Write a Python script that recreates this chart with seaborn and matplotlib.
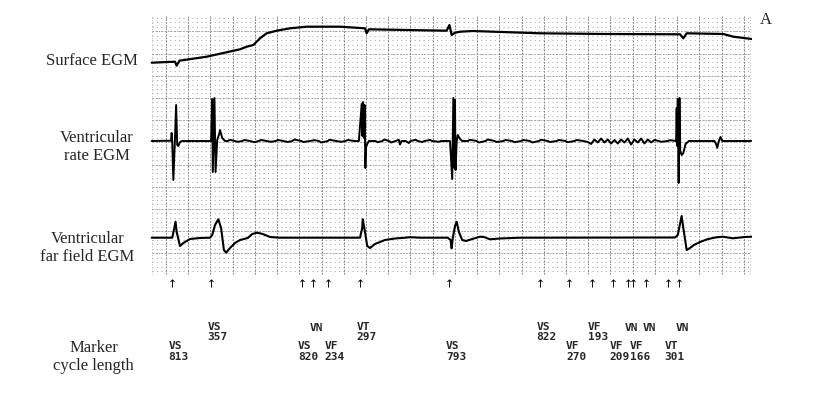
import matplotlib
matplotlib.use("Agg")
import numpy as np
import pandas as pd
import seaborn as sns
from matplotlib import pyplot as plt

# --- traces: time in ms, amplitude in display units (baseline 0, up positive)
surface_t = [15, 225, 240, 265, 510, 810, 870, 930, 990, 1050, 1140, 1260,
             1410, 1710, 1935, 1950, 1970, 2310, 2670, 2695, 2715, 2745,
             2790, 2905, 3510, 4110, 4770, 4800, 4830, 5160, 5250, 5415]
surface_amp = [0.3, 1.3, -2.7, 2.3, 6.3, 13.7, 16.3, 18, 24.7, 29.7, 32.3,
               34.7, 36.3, 36.3, 34.7, 29.7, 33.7, 33, 32.3, 38, 28, 30.3,
               31.3, 32, 29.7, 29, 28.7, 24.7, 29.7, 29, 26.3, 24]

rate_t = [15, 190, 195, 200, 210, 225, 235, 245, 255, 270, 290,
          550, 560, 565, 580, 590, 605, 625, 630, 650, 675,
          700, 720, 760, 790, 830, 850, 900, 940, 980, 1000, 1050, 1090,
          1130, 1150, 1200, 1240, 1280, 1300, 1360, 1380, 1440, 1480, 1520,
          1540, 1600, 1615, 1680, 1720, 1760, 1780, 1840, 1880,
          1905, 1912, 1918, 1925, 1932, 1938, 1945, 1955, 1970, 2000,
          2030, 2050, 2090, 2110, 2150, 2170, 2210, 2240, 2250, 2265, 2300,
          2330, 2345, 2390, 2410, 2450, 2470, 2520, 2540, 2600, 2620, 2700,
          2720, 2730, 2740, 2745, 2750, 2760, 2770, 2790, 2810, 2825,
          2860, 2880, 2940, 2960, 3020, 3040, 3100, 3120, 3180, 3200, 3260,
          3280, 3340, 3360, 3420, 3440, 3500, 3520, 3580, 3600, 3660, 3680,
          3740, 3760, 3820, 3840, 3900, 3940, 3970, 4000, 4030, 4060, 4090,
          4120, 4150, 4180, 4210, 4240, 4270, 4300, 4330, 4360, 4390, 4420,
          4450, 4480, 4510, 4540, 4580, 4600, 4660, 4680, 4730,
          4735, 4740, 4745, 4750, 4758, 4765, 4772, 4785, 4800, 4820, 4850,
          5080, 5095, 5105, 5120, 5135, 5150, 5410]
rate_amp = [0, 0.3, 8, 0, -39, 3, 36, -4, -5, -1, 0,
            0, 42, -31, 43, -31, 1, 8, 11, 3, 0,
            0, 1.2, 0, -0.8, 0, 1, 0, -1.2, 0, 1, 0, -0.8,
            0, 1, 0, -1, 0, 1.5, 0, -1, 0, 0.8, 0,
            -1.5, 0, 1.2, 0, -0.8, 0, 1, 0, 0,
            37, 5, 39, 3, 36, -27, -6, -3, 0, 0,
            0, -1.2, 0, 1.5, 0, -1.5, 0, 1.2, -3.5, 0, 0,
            -2, 0, 1.2, 0, -1, 0, 1, 0, -0.8, 0, 0,
            -38, 43, -27, 41, -29, -1, 6, 2, 0, 0,
            0, 1.2, 0, -1.5, 0, 1.5, 0, -1, 0, 1, 0,
            -1.2, 0, 1, 0, -1.5, 0, 1.2, 0, -1, 0, 1,
            0, -1.2, 0, 1, 0, -1, -3, 1.5, -1.5, 2.5, -1.5,
            1.5, -2.5, 1, -2.5, 1.5, -1.5, 2.5, -3.5, 1.5, -1.5, 2.5,
            -2.5, 1.5, -1.5, 1, 0, -0.8, 0, 0.8, 0,
            0, 33, -5, 42, -42, 43, -10, -14, -12, -3, 0,
            0, -3, -7, 0, 4, 0, 0]

far_t = [15, 200, 215, 230, 240, 270, 300, 360, 450, 540,
         560, 585, 615, 640, 665, 685, 720, 765, 810, 880, 920, 965, 1015,
         1080, 1170,
         1890, 1910, 1915, 1935, 1955, 1980, 2025, 2115, 2205, 2295, 2340,
         2430,
         2680, 2705, 2715, 2725, 2745, 2760, 2780, 2810, 2845, 2900, 2970,
         3005, 3060, 3150, 3330,
         4725, 4750, 4770, 4785, 4800, 4830, 4860, 4895, 4950, 5015, 5085,
         5155, 5245, 5355, 5415]
far_amp = [0, 0, 7.7, 16, 5.7, -8.3, -5.3, -1.3, -0.3, 0,
           2.7, 12.7, 18.4, 9.7, -12.3, -15, -10.3, -5.3, -2.3, -0.3, 3.7, 5,
           3.7, 0.7, 0,
           0, 9.7, 18.4, 5.7, -8.3, -10.3, -6.3, -2.3, -0.8, 0, 0.5,
           0,
           0, -2.3, -10.6, -0.3, 11.7, 16, 5.7, -2.3, -3.3, -1.3, 1,
           0.7, -1.6, -0.8, 0,
           0.2, 2.7, 13.7, 21.7, 9.7, -12.3, -10.3, -7.3, -4.3, -1.6, 0.2,
           1, -0.6, 0.7, 1]

# --- device markers
marker_t = [200, 550, 1365, 1470, 1605, 1890, 2695, 3510, 3775, 3975, 4170,
            4305, 4350, 4465, 4660, 4765]
marker_lbl = ["VS", "VS", "VS", "VN", "VF", "VT", "VS", "VS", "VF", "VF",
              "VF", "VN", "VF", "VN", "VT", "VN"]
marker_cl = [813, 357, 820, None, 234, 297, 793, 822, 270, 193, 209, None,
             166, None, 301, None]

channel_names = ["Surface EGM", "Ventricular\nrate EGM",
                 "Ventricular\nfar field EGM", "Marker\ncycle length"]

# layout (display units: 1 unit = 1 px vertically, 9 ms = 1 px horizontally)
baselines = [337, 259, 162.3]
arrow_y = 117
row_base = [50, 69.3]   # baseline of the label line, low / high row
line_pitch = 9.8

sns.set_style("white")
plt.rcParams["lines.scale_dashes"] = False

fig = plt.figure(figsize=(8.2, 4.0), dpi=100)
ax = fig.add_axes([150 / 820, 0, 602 / 820, 1])

# paper grid
t0, t1 = 14, 5400
y_bot, y_top = 126, 384
rows = np.arange(235.5 - 22.2 * 5, y_top, 4.44)
rows = rows[rows >= y_bot]
ax.hlines(rows, t0, t1, colors="#a0a0a0", lw=0.7,
          linestyles=[(0, (0.7, 2.5))])
major_rows = np.arange(235.5 - 22.2 * 4, y_top, 22.2)
ax.hlines(major_rows, t0, t1, colors="#9a9a9a", lw=0.6,
          linestyles=[(0, (1.2, 1.0))])
cols = np.arange(144, t1, 200)
ax.vlines(cols, y_bot, y_top, colors="#808080", lw=0.7,
          linestyles=[(0, (1.2, 1.0))])
ax.vlines([t0, t1], y_bot, y_top, colors="#b0b0b0", lw=0.6,
          linestyles=[(0, (0.7, 1.5))])

# traces
for tt, amp, base, lw in [(surface_t, surface_amp, baselines[0], 1.6),
                          (rate_t, rate_amp, baselines[1], 1.4),
                          (far_t, far_amp, baselines[2], 1.5)]:
    df = pd.DataFrame({"t": tt, "y": np.array(amp) + base})
    sns.lineplot(data=df, x="t", y="y", sort=False, estimator=None,
                 color="black", lw=lw, ax=ax)
ax.set_xlim(0, 5418)
ax.set_ylim(0, 400)
ax.axis("off")

# marker arrows and annotations
mk = pd.DataFrame({"t": marker_t, "y": arrow_y})
sns.scatterplot(data=mk, x="t", y="y", marker=r"$\uparrow$", s=34,
                color="black", linewidth=0, ax=ax)
mono = dict(family="DejaVu Sans Mono", weight="bold", size=8,
            ha="left", va="baseline", linespacing=1.12)
for i, (t, lbl, cl) in enumerate(zip(marker_t, marker_lbl, marker_cl)):
    y = row_base[i % 2]
    if cl is None:
        ax.text(t - 32, y, lbl, **mono)
    else:
        # multi-line text is anchored on its last line
        ax.text(t - 32, y - line_pitch, f"{lbl}\n{cl}", **mono)

# channel names
serif = dict(family="Liberation Serif", size=12, ha="center", va="center",
             linespacing=1.15)
name_pos = [(91.5, 61), (96.5, 146.7), (87.5, 248.3), (93.5, 356.7)]
for name, (px, py) in zip(channel_names, name_pos):
    fig.text(px / 820, 1 - py / 400, name, **serif)
fig.text(766 / 820, 1 - 20 / 400, "A", family="Liberation Serif", size=12,
         ha="center", va="center")

fig.savefig("out.png", dpi=100)
